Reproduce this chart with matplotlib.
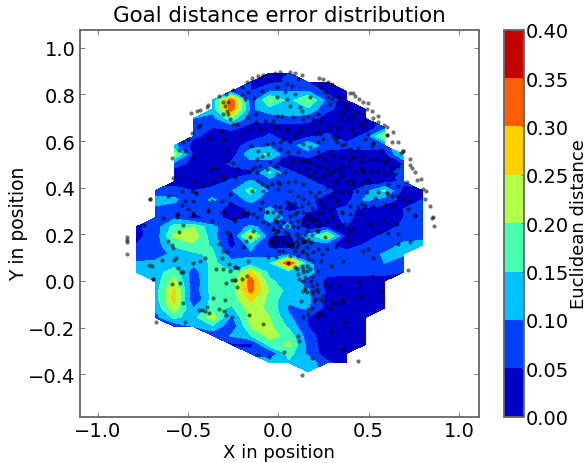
import numpy as np
from matplotlib import pyplot as plt

# grid the errors were contoured on
grid_x = np.linspace(-0.789, 0.798, 16)
grid_y = np.linspace(0.8915, -0.389, 34)

# first grid row that holds data in each column, then the errors (x 0.01) going down that column
first_row = [17, 13, 8, 5, 3, 2, 1, 0, 0, 1, 1, 2, 4, 6, 9, 13]
error_cols = [
    [4, 4, 5, 7, 10.5, 12],
    [7, 12, 9, 7, 7, 6.5, 7, 8, 11, 12.5, 12, 12.5, 12.5, 11, 8],
    [11, 22, 8, 2, 3, 7, 11, 8, 9, 17, 21, 16, 11, 12, 18, 22, 26, 27, 23, 16, 6],
    [10, 9, 5.5, 3, 4, 3, 2, 2, 5, 6, 7, 3, 20, 23, 19, 14, 11, 7, 6, 6.5, 4.5, 10, 13, 10],
    [11, 12, 8, 5, 4, 3.5, 2, 2, 2.5, 3, 6.5, 11, 8, 6, 11, 12, 14, 16, 16, 17, 17, 17, 17, 17, 23, 14, 6],
    [7, 34, 33, 19, 6, 3, 2, 2, 6, 3, 6, 9.5, 6, 2, 4, 7, 3, 3, 7, 12, 15, 16, 17, 17, 14, 9, 6, 10.5, 4],
    [5, 5, 6, 9, 6, 4, 2, 8, 14, 7, 4, 11, 17, 12, 6, 5, 11, 26, 12, 9, 12, 26, 33, 32, 26, 22, 22, 20, 15, 3, 8],
    [5, 4, 9, 21, 13, 7, 3, 6, 9, 16, 6, 16, 7, 9, 6, 11, 12, 8, 5, 4, 7, 14, 13, 16, 19, 18, 19, 20, 21, 22, 17, 5, 14],
    [5, 6, 10, 13, 13, 9, 2, 2, 6, 5, 2, 6, 9, 7, 5, 3, 9, 11, 4, 3, 8, 36, 12, 12, 13, 11, 9, 11, 14, 18, 21, 17, 14],
    [5, 10, 21, 14, 7, 3, 4, 15, 6, 3, 3, 6, 6, 6, 6, 3, 2, 12, 8, 5, 11, 12, 8, 10.5, 11, 10.5, 5, 5, 7, 8, 9, 13, 14],
    [4, 3.5, 8, 6, 3, 3, 6, 6, 4, 2, 2, 3, 6, 3, 4, 3, 4, 22, 6, 6, 7, 6, 4, 4, 4, 3, 2, 2, 2, 2, 2, 6],
    [5, 2.5, 3, 3, 3, 3, 6, 3, 2, 2, 3, 3, 2.5, 6, 6, 5, 3, 3, 6.5, 6, 6, 3, 2, 2, 2, 2, 2, 2, 2, 2, 3],
    [5, 2, 2.5, 6, 7, 3, 2, 2, 2.5, 8, 11, 4, 3, 2, 3, 5.5, 8, 7, 6, 3, 2, 2, 2, 2, 2, 2, 2],
    [7, 22, 6, 3, 2, 2, 3, 16, 8, 3, 4, 3, 6, 7, 10.5, 10, 6, 3, 2, 2, 2],
    [16, 5, 8, 6, 3, 3, 5, 5, 6, 8, 11, 10.5, 8, 5],
    [4, 5, 6, 7, 8, 9, 11],
]
levels = [0.00, 0.05, 0.10, 0.15, 0.20, 0.25, 0.30, 0.35, 0.40]

goal_points = [
    (-0.483, 0.713), (-0.446, 0.722), (-0.432, 0.728), (-0.392, 0.739), (-0.386, 0.749), (-0.326, 0.786),
    (-0.290, 0.796), (-0.250, 0.814), (-0.204, 0.824), (-0.177, 0.845), (-0.149, 0.862), (-0.113, 0.871),
    (-0.086, 0.878), (-0.022, 0.884), (-0.477, 0.630), (-0.441, 0.654), (-0.432, 0.665), (-0.495, 0.604),
    (-0.523, 0.590), (-0.545, 0.557), (-0.512, 0.555), (-0.583, 0.522), (-0.472, 0.525), (-0.581, 0.438),
    (-0.381, 0.609), (-0.301, 0.600), (-0.286, 0.559), (-0.313, 0.640), (-0.204, 0.626), (-0.705, 0.348),
    (-0.705, 0.348), (-0.455, 0.373), (-0.455, 0.373), (-0.532, 0.383), (-0.477, 0.382), (-0.605, 0.360),
    (-0.368, 0.477), (-0.344, 0.481), (-0.319, 0.445), (-0.299, 0.434), (-0.359, 0.424), (-0.413, 0.406),
    (-0.459, 0.420), (-0.277, 0.509), (-0.250, 0.502), (-0.228, 0.479), (-0.240, 0.441), (-0.304, 0.763),
    (-0.277, 0.760), (-0.297, 0.743), (-0.284, 0.725), (-0.304, 0.711), (-0.281, 0.709), (-0.268, 0.689),
    (-0.250, 0.668), (-0.231, 0.668), (-0.173, 0.696), (-0.126, 0.711), (-0.126, 0.675), (-0.168, 0.654),
    (-0.168, 0.803), (-0.186, 0.774), (-0.137, 0.779), (-0.204, 0.791), (-0.095, 0.807), (-0.049, 0.857),
    (-0.013, 0.824), (-0.077, 0.682), (-0.031, 0.682), (-0.022, 0.654), (-0.104, 0.647), (-0.153, 0.576),
    (-0.113, 0.555), (-0.067, 0.583), (-0.035, 0.586), (-0.122, 0.519), (-0.095, 0.533), (-0.058, 0.540),
    (-0.049, 0.505), (-0.104, 0.491), (-0.131, 0.484), (-0.149, 0.477), (-0.164, 0.462), (-0.122, 0.462),
    (-0.067, 0.477), (-0.022, 0.491), (-0.013, 0.455), (-0.095, 0.413), (-0.113, 0.427), (-0.067, 0.406),
    (-0.040, 0.413), (-0.004, 0.420), (-0.149, 0.384), (-0.086, 0.384), (-0.268, 0.370), (-0.313, 0.342),
    (-0.368, 0.342), (-0.514, 0.342), (-0.532, 0.325), (-0.468, 0.342), (-0.495, 0.306), (-0.468, 0.289),
    (-0.559, 0.285), (-0.386, 0.304), (-0.304, 0.292), (-0.268, 0.332), (-0.168, 0.289), (-0.195, 0.285),
    (-0.104, 0.306), (-0.095, 0.338), (-0.067, 0.295), (-0.022, 0.321), (-0.004, 0.278),
    (0.220, 0.864), (0.242, 0.860), (0.270, 0.848), (0.288, 0.838), (0.388, 0.800), (0.406, 0.800),
    (0.415, 0.786), (0.439, 0.774), (0.461, 0.760), (0.488, 0.756), (0.479, 0.732), (0.510, 0.725),
    (0.515, 0.692), (0.543, 0.701), (0.543, 0.675), (0.571, 0.664), (0.588, 0.654), (0.621, 0.635),
    (0.588, 0.621), (0.588, 0.621), (0.616, 0.593), (0.652, 0.590), (0.679, 0.555), (0.679, 0.555),
    (0.665, 0.543), (0.713, 0.519), (0.716, 0.494), (0.725, 0.481), (0.743, 0.462), (0.774, 0.434),
    (0.752, 0.431), (0.785, 0.391), (0.803, 0.384), (0.825, 0.321), (0.798, 0.349), (0.840, 0.271),
    (0.005, 0.888), (0.060, 0.888), (0.087, 0.885), (0.124, 0.878), (0.106, 0.860), (0.005, 0.857),
    (0.042, 0.838), (0.069, 0.831), (0.033, 0.803), (0.087, 0.796), (-0.013, 0.782), (0.042, 0.774),
    (0.060, 0.745), (0.169, 0.782), (0.224, 0.824), (0.270, 0.782), (0.288, 0.774), (0.324, 0.782),
    (0.279, 0.753), (0.379, 0.732), (0.342, 0.718), (0.425, 0.718), (0.115, 0.739), (0.124, 0.725),
    (0.133, 0.689), (-0.013, 0.704), (0.188, 0.689), (0.224, 0.682), (0.333, 0.689), (0.379, 0.689),
    (0.464, 0.654), (0.415, 0.626), (0.270, 0.654), (0.197, 0.626), (0.224, 0.626), (0.106, 0.633),
    (0.042, 0.647), (0.024, 0.604), (-0.013, 0.654), (0.306, 0.604), (0.315, 0.590), (0.342, 0.579),
    (0.242, 0.604), (0.169, 0.570), (0.515, 0.586), (0.515, 0.586), (0.003, 0.562), (0.051, 0.548),
    (0.279, 0.555), (0.388, 0.562), (0.433, 0.565), (0.561, 0.555), (0.115, 0.512), (0.142, 0.512),
    (0.215, 0.526), (0.206, 0.491), (0.260, 0.477), (0.306, 0.477), (0.333, 0.469), (0.388, 0.519),
    (0.379, 0.491), (0.443, 0.505), (0.461, 0.462), (0.497, 0.462), (0.479, 0.434), (0.616, 0.484),
    (0.588, 0.519), (0.060, 0.491), (0.078, 0.512), (0.315, 0.427), (0.370, 0.420), (0.406, 0.413),
    (0.497, 0.420), (0.242, 0.448), (0.270, 0.455), (0.169, 0.448), (0.087, 0.427), (0.051, 0.420),
    (0.005, 0.413), (0.220, 0.377), (0.260, 0.399), (0.306, 0.384), (0.342, 0.377), (0.698, 0.420),
    (0.588, 0.373), (0.588, 0.373), (0.525, 0.353), (0.579, 0.328), (0.452, 0.328), (0.616, 0.363),
    (0.679, 0.349), (0.712, 0.342), (0.743, 0.278), (0.315, 0.342), (0.242, 0.321), (0.224, 0.342),
    (0.197, 0.363), (0.133, 0.349), (0.106, 0.363), (0.042, 0.335), (0.005, 0.313), (0.069, 0.313),
    (0.124, 0.321), (0.178, 0.309), (0.096, 0.292), (0.151, 0.285), (0.342, 0.292), (0.433, 0.313),
    (0.470, 0.321),
    (0.014, 0.704), (0.078, 0.696), (0.160, 0.704), (0.215, 0.711), (0.251, 0.803), (0.315, 0.760),
    (0.361, 0.753), (0.406, 0.704), (0.470, 0.689), (0.506, 0.661), (0.443, 0.668), (0.397, 0.647),
    (0.324, 0.654), (0.178, 0.654), (0.215, 0.636), (0.124, 0.647), (0.087, 0.611), (0.060, 0.590),
    (0.005, 0.590), (0.106, 0.548), (0.133, 0.583), (0.215, 0.590), (0.297, 0.618), (0.324, 0.611),
    (0.361, 0.583), (0.470, 0.604), (0.488, 0.626), (0.506, 0.573), (0.579, 0.505), (0.534, 0.519),
    (0.497, 0.519), (0.452, 0.533), (0.406, 0.526), (0.342, 0.526), (0.297, 0.533), (0.251, 0.519),
    (0.169, 0.505), (0.215, 0.548), (0.014, 0.519), (-0.013, 0.484), (0.033, 0.462), (0.106, 0.469),
    (0.151, 0.477), (0.197, 0.462), (0.233, 0.491), (0.288, 0.462), (0.342, 0.491), (0.415, 0.462),
    (0.452, 0.477), (0.534, 0.469), (0.579, 0.455), (0.634, 0.455), (0.652, 0.491), (0.133, 0.413),
    (0.215, 0.427), (0.288, 0.420), (0.342, 0.448), (0.397, 0.427), (0.452, 0.413), (0.543, 0.420),
    (0.597, 0.413), (0.652, 0.406), (0.379, 0.384), (0.425, 0.384), (0.479, 0.377), (0.543, 0.377),
    (0.643, 0.363), (0.279, 0.356), (0.169, 0.377), (0.060, 0.384), (-0.004, 0.391), (0.087, 0.332),
    (0.160, 0.332), (0.279, 0.305), (0.388, 0.321), (0.515, 0.321), (0.625, 0.321), (0.388, 0.285),
    (0.707, 0.306),
    (0.838, 0.270), (0.847, 0.233), (0.707, 0.047), (0.430, -0.342), (0.126, -0.399), (0.743, 0.282),
    (0.652, 0.157), (0.716, 0.167), (0.597, 0.204), (0.552, 0.207), (0.652, 0.200), (0.643, 0.244),
    (0.576, 0.260), (0.497, 0.243), (0.443, 0.285), (0.361, 0.243), (0.315, 0.235), (0.388, 0.214),
    (0.373, 0.200), (0.379, 0.172), (0.406, 0.224), (0.311, 0.143), (0.461, 0.129), (0.488, 0.136),
    (0.515, 0.096), (0.352, 0.087), (0.282, 0.065), (0.506, 0.023), (0.437, -0.006), (0.561, -0.044),
    (0.333, -0.020), (0.279, -0.027), (0.251, -0.009), (0.446, -0.070), (0.342, -0.077), (0.351, -0.088),
    (0.324, -0.095), (0.297, -0.095), (0.279, -0.115), (0.242, -0.062), (0.238, -0.084), (0.197, -0.077),
    (0.233, -0.140), (0.215, -0.136), (0.215, -0.152), (0.178, -0.115), (0.160, -0.140), (0.133, -0.152),
    (0.355, -0.176), (0.284, -0.211), (0.102, -0.233), (0.111, -0.255), (0.029, -0.304), (0.352, -0.289),
    (0.182, -0.328), (0.142, -0.027), (0.133, -0.041), (0.173, 0.001), (0.178, -0.023), (0.206, -0.034),
    (0.215, -0.048), (0.120, -0.084), (0.191, -0.084), (0.160, -0.119), (0.111, 0.009), (0.142, 0.016),
    (0.106, 0.030), (0.087, 0.058), (0.133, 0.051), (0.151, 0.044), (0.051, 0.077), (0.206, 0.044),
    (0.228, 0.087), (0.178, 0.087), (0.260, 0.136), (0.215, 0.136), (0.251, 0.186), (0.215, 0.211),
    (0.169, 0.166), (0.133, 0.166), (0.106, 0.157), (0.078, 0.157), (0.051, 0.157), (0.087, 0.129),
    (0.133, 0.129), (0.000, 0.129), (-0.031, 0.157), (-0.049, 0.172), (-0.013, 0.211), (0.024, 0.164),
    (0.096, 0.172), (0.124, 0.180), (0.142, 0.172), (0.060, 0.150), (0.096, 0.143), (0.160, 0.264),
    (0.188, 0.264), (0.206, 0.264), (0.178, 0.250), (0.133, 0.264), (0.124, 0.243), (0.151, 0.235),
    (0.206, 0.235), (0.224, 0.243), (0.233, 0.292), (0.260, 0.257), (0.288, 0.271), (0.342, 0.289),
    (0.060, 0.278), (-0.022, 0.264), (0.005, 0.235), (0.024, 0.250), (0.042, 0.235), (-0.031, 0.221),
    (-0.004, 0.214), (0.051, 0.200), (0.096, 0.200), (0.151, 0.214),
    (-0.031, 0.292), (0.005, 0.292), (0.087, 0.285), (0.133, 0.292), (0.169, 0.278), (0.215, 0.285),
    (-0.013, 0.250), (0.060, 0.250), (0.106, 0.257), (0.078, 0.235), (0.142, 0.197), (0.106, 0.228),
    (0.178, 0.197), (0.206, 0.214), (0.033, 0.207), (-0.022, 0.186), (0.015, 0.186), (0.060, 0.179),
    (0.106, 0.186), (0.160, 0.179), (0.178, 0.164), (0.133, 0.165), (0.051, 0.157), (-0.022, 0.143),
    (0.024, 0.129), (0.078, 0.143), (0.151, 0.143), (0.124, 0.122), (0.060, 0.108), (0.106, 0.108),
    (0.151, 0.115), (0.187, 0.122), (0.233, 0.115), (0.160, 0.094), (0.124, 0.065), (0.151, 0.065),
    (0.096, 0.051), (0.133, 0.037), (0.169, 0.051), (0.178, 0.016), (0.133, 0.001), (0.142, -0.034),
    (0.151, -0.048), (0.206, -0.013), (0.187, -0.041), (0.224, -0.077), (0.178, -0.055),
    (-0.829, 0.186), (-0.829, 0.176), (-0.829, 0.165), (-0.832, 0.115), (-0.672, -0.176), (-0.738, 0.240),
    (-0.636, 0.267), (-0.559, 0.271), (-0.550, 0.285), (-0.526, 0.240), (-0.546, 0.207), (-0.608, 0.169),
    (-0.583, 0.153), (-0.581, 0.139), (-0.563, 0.096), (-0.572, 0.091), (-0.641, 0.091), (-0.710, 0.068),
    (-0.692, 0.062), (-0.687, 0.009), (-0.687, 0.009), (-0.550, 0.054), (-0.536, 0.037), (-0.526, 0.037),
    (-0.583, -0.013), (-0.539, -0.009), (-0.523, -0.095), (-0.514, -0.176), (-0.432, 0.087), (-0.468, 0.077),
    (-0.403, 0.098), (-0.326, 0.157), (-0.346, 0.051), (-0.304, 0.051), (-0.304, 0.129), (-0.286, 0.122),
    (-0.313, 0.098), (-0.271, 0.072), (-0.240, 0.058), (-0.240, 0.058), (-0.222, 0.054), (-0.268, 0.041),
    (-0.240, 0.006), (-0.240, 0.006), (-0.259, 0.006), (-0.291, -0.009), (-0.200, 0.009), (-0.177, 0.020),
    (-0.228, -0.024), (-0.293, -0.079), (-0.359, -0.072), (-0.395, -0.112), (-0.435, -0.123), (-0.423, -0.123),
    (-0.404, -0.129), (-0.383, -0.138), (-0.328, -0.119), (-0.302, -0.129), (-0.291, -0.145), (-0.259, -0.155),
    (-0.162, -0.145), (-0.086, -0.183), (-0.113, -0.315), (-0.055, -0.325), (-0.286, 0.207), (-0.268, 0.200),
    (-0.168, 0.087), (-0.140, 0.214), (-0.159, 0.186), (-0.180, 0.169), (-0.199, 0.146), (-0.062, 0.104),
    (-0.016, 0.101), (-0.250, 0.264), (-0.240, 0.254), (-0.364, 0.257), (-0.468, 0.285), (-0.386, 0.299),
    (-0.304, 0.289), (-0.195, 0.285), (-0.168, 0.289), (-0.140, 0.285), (-0.122, 0.271), (-0.086, 0.250),
    (-0.067, 0.292), (-0.058, 0.243), (-0.022, 0.257), (-0.031, 0.221), (-0.040, 0.172), (-0.013, 0.172),
    (-0.022, 0.200),
]

FRAME_GREY = '#666666'


def build_error_grid():
    grid = np.full((len(grid_y), len(grid_x)), np.nan)
    for col, (start, values) in enumerate(zip(first_row, error_cols)):
        grid[start:start + len(values), col] = np.array(values) / 100.0
    return grid


def grey_frame(axes):
    for spine in axes.spines.values():
        spine.set_color(FRAME_GREY)
        spine.set_linewidth(1.3)


plt.rcParams['font.family'] = 'DejaVu Sans'
plt.rcParams['xtick.direction'] = 'in'
plt.rcParams['ytick.direction'] = 'in'
plt.rcParams['xtick.top'] = True
plt.rcParams['ytick.right'] = True

fig = plt.figure(figsize=(5.87, 4.64), dpi=100)
ax = fig.add_axes([79.5 / 587, 46.3 / 464, 399.8 / 587, 387 / 464])

cs = ax.contourf(grid_x, grid_y, np.ma.masked_invalid(build_error_grid()), levels=levels, cmap='jet')
# the points were read against a slightly tighter tick spacing, hence the small rescale
points = np.array(goal_points)
ax.scatter(points[:, 0] * 1.014 + 0.003, points[:, 1] * 1.007, s=9, c='k', alpha=0.55, linewidths=0)

ax.set_xlim(-1.1025, 1.1125)
ax.set_ylim(-0.5818, 1.0772)
ax.set_xticks([-1.0, -0.5, 0.0, 0.5, 1.0])
ax.set_yticks([-0.4, -0.2, 0.0, 0.2, 0.4, 0.6, 0.8, 1.0])
ax.tick_params(labelsize=14, length=3.5, width=0.6, color=FRAME_GREY, pad=3)
grey_frame(ax)
ax.set_title('Goal distance error distribution', fontsize=15.4, pad=6)
ax.set_xlabel('X in position', fontsize=13, labelpad=2)
ax.set_ylabel('Y in position', fontsize=13.5, labelpad=0)

cax = fig.add_axes([504 / 587, 46.3 / 464, 19.7 / 587, 387 / 464])
cbar = fig.colorbar(cs, cax=cax)
cbar.set_ticks(levels)
cbar.ax.set_yticklabels(['%.2f' % v for v in levels])
cbar.ax.tick_params(labelsize=14, length=2, width=0.6, color=FRAME_GREY, pad=1.5)
cbar.outline.set_edgecolor(FRAME_GREY)
cbar.outline.set_linewidth(1.3)
cbar.set_label('Euclidean distance', fontsize=13, labelpad=0)
cbar.ax.yaxis.set_label_coords(3.35, 0.5)

fig.savefig('out.png', dpi=100)
